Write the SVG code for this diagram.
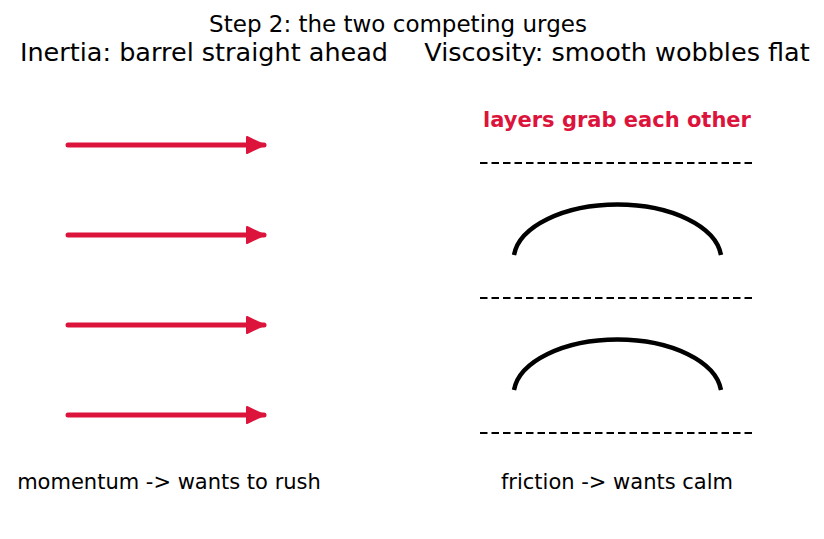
<svg xmlns="http://www.w3.org/2000/svg" width="824" height="539" viewBox="0 0 824 539">
  <style>
    text { font-family: "DejaVu Sans", "Liberation Sans", sans-serif; fill: #000; }
    .title { font-size: 23px; }
    .sub { font-size: 25.5px; }
    .cap { font-size: 21px; }
    .note { font-size: 21px; font-weight: bold; fill: crimson; }
    .push { stroke: crimson; stroke-width: 5; stroke-linecap: round; fill: none; }
    .layer { stroke: #000; stroke-width: 2.2; stroke-dasharray: 7.5 4; fill: none; }
    .wobble { stroke: #000; stroke-width: 4.4; fill: none; }
  </style>
  <defs>
    <marker id="head" markerUnits="userSpaceOnUse" markerWidth="24" markerHeight="24" refX="18" refY="10" orient="auto">
      <path d="M1,2 L18,10 L1,18 Z" fill="crimson" stroke="crimson" stroke-width="2" stroke-linejoin="round"/>
    </marker>
  </defs>

  <rect width="824" height="539" fill="#fff"/>

  <text class="title" x="398" y="32" text-anchor="middle">Step 2: the two competing urges</text>
  <text class="sub" x="204" y="61" text-anchor="middle">Inertia: barrel straight ahead</text>
  <text class="sub" x="617" y="61" text-anchor="middle">Viscosity: smooth wobbles flat</text>

  <!-- inertia panel: flow pushing straight ahead -->
  <g id="inertia">
    <line class="push" x1="68" y1="145" x2="264" y2="145" marker-end="url(#head)"/>
    <line class="push" x1="68" y1="235" x2="264" y2="235" marker-end="url(#head)"/>
    <line class="push" x1="68" y1="325" x2="264" y2="325" marker-end="url(#head)"/>
    <line class="push" x1="68" y1="415" x2="264" y2="415" marker-end="url(#head)"/>
    <text class="cap" x="169" y="489" text-anchor="middle">momentum -&gt; wants to rush</text>
  </g>

  <!-- viscosity panel: fluid layers with wobbles between them -->
  <g id="viscosity">
    <text class="note" x="617" y="127" text-anchor="middle">layers grab each other</text>
    <line class="layer" x1="480" y1="163" x2="756" y2="163"/>
    <line class="layer" x1="480" y1="298" x2="756" y2="298"/>
    <line class="layer" x1="480" y1="433" x2="756" y2="433"/>
    <path class="wobble" d="M514,255 A104,56 0 0 1 721,255"/>
    <path class="wobble" d="M514,390 A104,56 0 0 1 721,390"/>
    <text class="cap" x="617" y="489" text-anchor="middle">friction -&gt; wants calm</text>
  </g>
</svg>
